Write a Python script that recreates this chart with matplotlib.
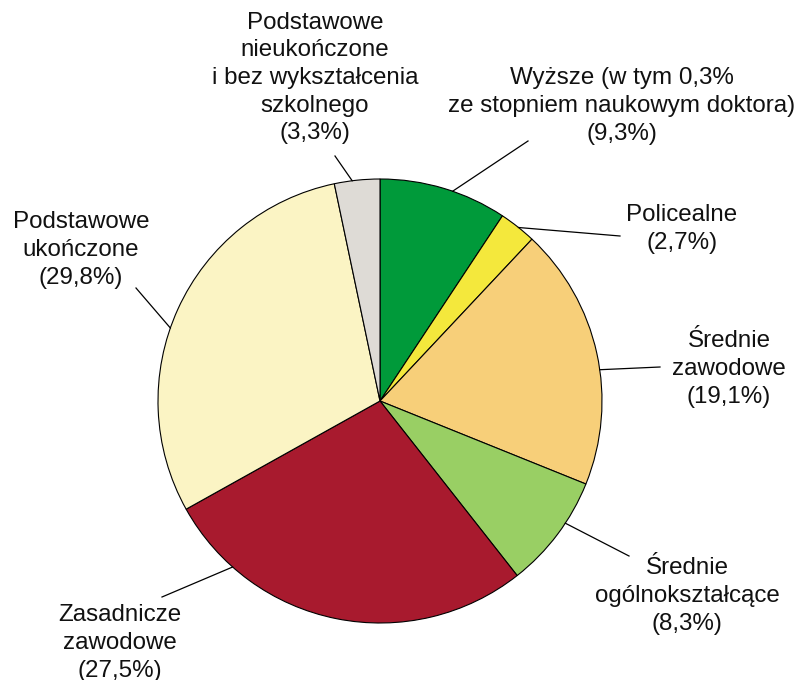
import numpy as np
import matplotlib
matplotlib.use("Agg")
from matplotlib import pyplot as plt

labels = ["Wyższe (w tym 0,3%\nze stopniem naukowym doktora)",
          "Policealne",
          "Średnie\nzawodowe",
          "Średnie\nogólnokształcące",
          "Zasadnicze\nzawodowe",
          "Podstawowe\nukończone",
          "Podstawowe\nnieukończone\ni bez wykształcenia\nszkolnego"]
shares = [9.3, 2.7, 19.1, 8.3, 27.5, 29.8, 3.3]
colors = ["#009a3a", "#f4e83c", "#f7cf79", "#99cf64", "#a81a2e", "#fbf4c4", "#dedbd6"]

W, H = 804, 680
cx, cy, r = 380, 401, 222

# leader line: start angle on circle (deg), end point (px), text centre (px)
leaders = [(70.9, (528, 141), (622, 106)),
           (51.4, (620, 236), (682, 229)),
           (8.1, (660, 367), (729, 369)),
           (-33.4, (629, 556), (687, 596)),
           (228.4, (162, 597), (120, 643)),
           (160.8, (136, 288), (81, 250)),
           (97.2, (335, 156), (315, 78))]

plt.rcParams['font.family'] = ['Liberation Sans', 'DejaVu Sans']

fig = plt.figure(figsize=(W / 100, H / 100), dpi=100)
ax = fig.add_axes([0, 0, 1, 1])

ax.pie(shares, colors=colors, startangle=90, counterclock=False,
       center=(cx, H - cy), radius=r, frame=True,
       wedgeprops=dict(edgecolor="black", linewidth=0.8))
ax.set_xlim(0, W)
ax.set_ylim(0, H)
ax.set_aspect("equal")
ax.axis("off")

for lab, val, (ang, (ex, ey), (tx, ty)) in zip(labels, shares, leaders):
    a = np.radians(ang)
    sx, sy = cx + r * np.cos(a), cy - r * np.sin(a)
    ax.plot([sx, ex], [H - sy, H - ey], color="black", lw=0.9)
    txt = lab + "\n(" + f"{val:.1f}".replace(".", ",") + "%)"
    ax.text(tx, H - ty, txt, ha="center", va="center", fontsize=17.4,
            linespacing=1.33, color="#111111")

plt.savefig("out.png", dpi=100)
